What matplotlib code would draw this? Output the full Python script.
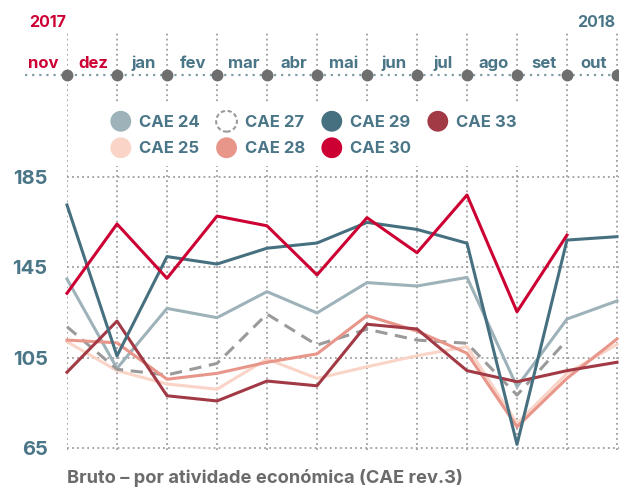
import numpy as np
import matplotlib
matplotlib.use("Agg")
import matplotlib.pyplot as plt
import matplotlib.patches as mpatches
from matplotlib.legend_handler import HandlerBase

plt.rcParams['font.family'] = ['Inter', 'DejaVu Sans']
plt.rcParams['font.weight'] = 'bold'

months = ["nov", "dez", "jan", "fev", "mar", "abr", "mai", "jun", "jul", "ago", "set", "out"]
cae24 = [139.8, 100.3, 126.8, 122.7, 134.2, 124.8, 138.2, 136.7, 140.5, 92.2, 122.1, 130.1]
cae25 = [112.1, 99.3, 93.4, 91.1, 104.4, 95.9, 101.0, 105.9, 109.9, 76.0, 98.1, 110.9]
cae27 = [118.7, 99.9, 97.4, 102.5, 124.3, 110.6, 117.6, 112.8, 111.4, 88.5, 112.8, np.nan]
cae28 = [112.8, 111.6, 95.5, 98.1, 103.0, 106.7, 123.6, 116.8, 107.0, 74.5, 95.9, 113.3]
cae29 = [172.5, 105.8, 149.7, 146.4, 153.4, 155.7, 164.8, 161.7, 155.6, 66.7, 157.0, 158.5]
cae30 = [133.5, 164.1, 140.1, 167.6, 163.3, 141.6, 166.9, 151.4, 176.9, 125.3, 159.2, np.nan]
cae33 = [98.6, 121.2, 88.2, 85.9, 94.7, 92.6, 119.8, 117.7, 99.3, 94.4, 99.3, 103.0]
yticks = [65, 105, 145, 185]

TEAL = "#4a7687"
RED = "#cc0033"
GRID = "#9e9e9e"

W, H = 619, 487
fig = plt.figure(figsize=(W / 100, H / 100), dpi=100)
# axes: x=0 at px 67, 50 px per month; y=185 at px 176.7, 2.263 px per unit
top_px, bot_px = 31, 450
ppu = 2.263
ax = fig.add_axes([67 / W, 1 - bot_px / H, (W - 67) / W, (bot_px - top_px) / H])
ax.set_xlim(0, (W - 67) / 50)
ax.set_ylim(185 - (bot_px - 176.7) / ppu, 185 + (176.7 - top_px) / ppu)
for s in ax.spines.values():
    s.set_visible(False)

x = np.arange(len(months))
ax.set_xticks(x)
ax.set_xticklabels([])
ax.set_yticks(yticks)
ax.set_yticklabels([str(v) for v in yticks], color=TEAL, fontsize=14.5, fontweight='bold')
ax.tick_params(length=0, pad=14)
ax.grid(True, color=GRID, linestyle=(0, (1, 1.8)), linewidth=1.3)
ax.set_axisbelow(True)

series = [
    (cae25, "#f9d4c7", '-'),
    (cae24, "#9db2b9", '-'),
    (cae27, "#9a9a9a", (0, (4, 2.5))),
    (cae28, "#e8958a", '-'),
    (cae33, "#a23a46", '-'),
    (cae29, "#46707f", '-'),
    (cae30, RED, '-'),
]
for vals, col, ls in series:
    ax.plot(x, vals, color=col, linestyle=ls, linewidth=2.2, clip_on=False, zorder=3)

# timeline on top
def px2val(py):
    return 185 + (176.7 - py) / ppu

ty = px2val(75)
ax.plot([-0.84, (W - 67) / 50], [ty, ty], color="#7f9ca6", linestyle=(0, (1, 2.2)),
        linewidth=1.6, clip_on=False, zorder=2)
ax.plot(x, [ty] * len(x), 'o', color="#6e6e6e", markersize=7.5, clip_on=False, zorder=4)
for i, m in enumerate(months):
    ax.text(i - 0.47, px2val(63), m, ha='center', va='center', fontsize=12,
            fontweight='bold', color=RED if i < 2 else TEAL)
ax.text(-0.02, px2val(22), "2017", ha='right', va='center', fontsize=11.5,
        fontweight='bold', color=RED)
ax.text(10.96, px2val(22), "2018", ha='right', va='center', fontsize=11.5,
        fontweight='bold', color=TEAL)


class HandlerDot(HandlerBase):
    def create_artists(self, legend, orig_handle, xdescent, ydescent,
                       width, height, fontsize, trans):
        c = mpatches.Circle((width / 2 - xdescent, height / 2 - ydescent), 7.5,
                            facecolor=orig_handle.get_facecolor(),
                            edgecolor=orig_handle.get_edgecolor(),
                            linestyle=orig_handle.get_linestyle(),
                            linewidth=orig_handle.get_linewidth(),
                            transform=trans)
        return [c]


labels = ["CAE 24", "CAE 25", "CAE 27", "CAE 28", "CAE 29", "CAE 30", "CAE 33"]
handles = [
    mpatches.Patch(facecolor="#9db2b9", edgecolor="none"),
    mpatches.Patch(facecolor="#f9d4c7", edgecolor="none"),
    mpatches.Patch(facecolor="white", edgecolor="#9a9a9a", linestyle=(0, (2, 1.3)), linewidth=1.5),
    mpatches.Patch(facecolor="#e8958a", edgecolor="none"),
    mpatches.Patch(facecolor="#46707f", edgecolor="none"),
    mpatches.Patch(facecolor=RED, edgecolor="none"),
    mpatches.Patch(facecolor="#a23a46", edgecolor="none"),
]
leg = ax.legend(handles, labels, handler_map={mpatches.Patch: HandlerDot()},
                ncol=4, loc='upper left', bbox_to_anchor=(100.8 / W, 1 - 103 / H),
                bbox_transform=fig.transFigure, borderaxespad=0, borderpad=0.55,
                frameon=True, framealpha=1, facecolor='white', edgecolor='none',
                fancybox=False, handlelength=1.3, handleheight=1.3,
                handletextpad=0.45, columnspacing=0.95, labelspacing=0.5,
                prop={'size': 12, 'weight': 'bold'})
for t in leg.get_texts():
    t.set_color(TEAL)

fig.text(67 / W, 1 - 478 / H, "Bruto – por atividade económica (CAE rev.3)",
         ha='left', va='center', fontsize=13.2, fontweight='bold', color="#6b6b6b")

fig.savefig("out.png", dpi=100)
